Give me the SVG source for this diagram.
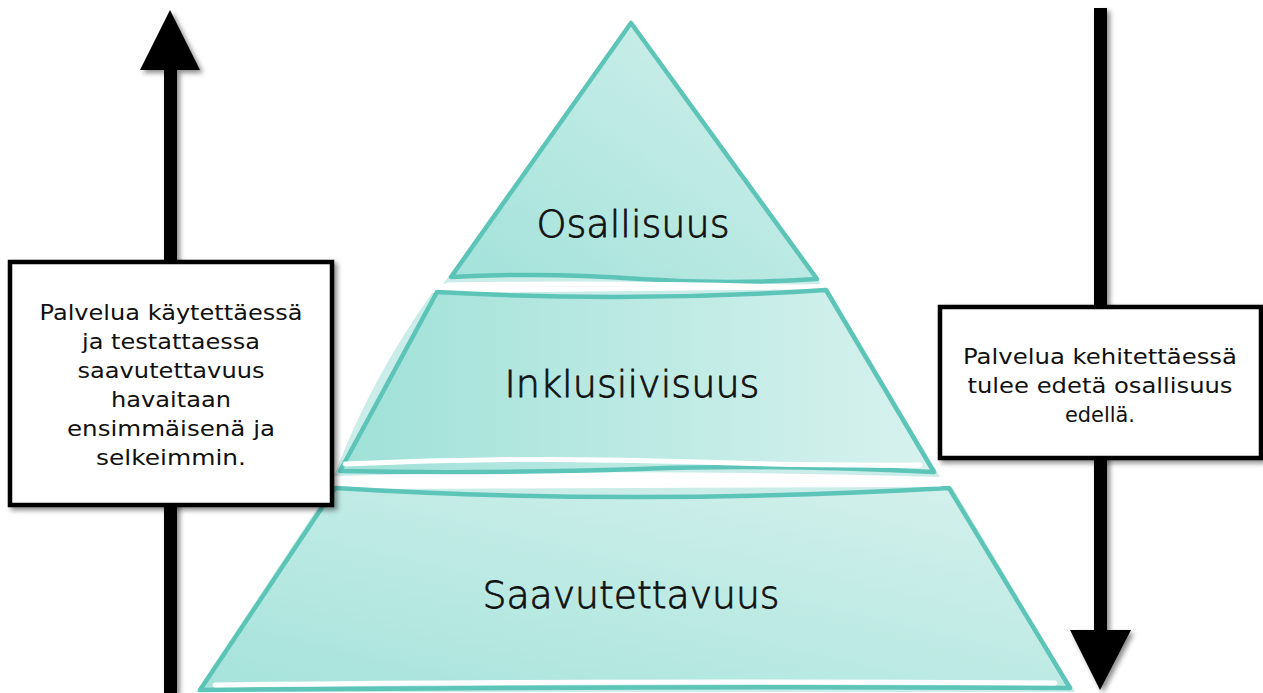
<svg xmlns="http://www.w3.org/2000/svg" width="1263" height="693" viewBox="0 0 1263 693">
<defs>
<style>
.lvl{stroke:#5DC4B8;stroke-width:4.5;stroke-linejoin:round}
.bleed{fill:#BDE9E3;opacity:0.8}
.gap{fill:none;stroke:#ffffff;stroke-width:5;stroke-linecap:round}
.lbl{font-family:"DejaVu Sans","Liberation Sans",sans-serif;font-weight:200;font-size:38px;fill:#111;stroke:#111;stroke-width:0.8;text-anchor:middle}
.txt{font-family:"DejaVu Sans","Liberation Sans",sans-serif;font-size:22px;fill:#111;text-anchor:middle}
.box{fill:#fff;stroke:#000;stroke-width:4.5}
.arrow{fill:#000}
</style>
<linearGradient id="gTop" x1="0" y1="1" x2="1" y2="0">
<stop offset="0" stop-color="#A2E2DA"/>
<stop offset="1" stop-color="#D3F0EC"/>
</linearGradient>
<linearGradient id="gMid" x1="0" y1="0" x2="1" y2="0">
<stop offset="0" stop-color="#9FE1D8"/>
<stop offset="1" stop-color="#D8F2EE"/>
</linearGradient>
<linearGradient id="gBot" x1="0" y1="1" x2="1" y2="0">
<stop offset="0" stop-color="#A5E3DB"/>
<stop offset="1" stop-color="#D6F1ED"/>
</linearGradient>
<filter id="sh" x="-10%" y="-10%" width="130%" height="130%">
<feDropShadow dx="3" dy="3" stdDeviation="2.5" flood-color="#000" flood-opacity="0.45"/>
</filter>
</defs>

<g id="connectors">
<g id="arrow-up" filter="url(#sh)">
<rect class="arrow" x="164" y="66" width="13" height="627"/>
<polygon class="arrow" points="170,10 200,70 140,70"/>
</g>
<g id="arrow-down" filter="url(#sh)">
<rect class="arrow" x="1094" y="8" width="13" height="626"/>
<polygon class="arrow" points="1070,630 1131,630 1100,690"/>
</g>
</g>

<g id="level-osallisuus">
<path class="bleed" d="M631,26 L443,284 Q635,290 821,284 L805,262 L631,26 Z"/>
<path class="lvl" fill="url(#gTop)" d="M631,23 L451,277 Q545,272 640,279 Q730,285 817,279 Z"/>
<path class="gap" d="M447,285 Q640,282 818,288"/>
<text class="lbl" x="633" y="237" textLength="193" lengthAdjust="spacingAndGlyphs">Osallisuus</text>
</g>

<g id="level-inklusiivisuus">
<path class="bleed" d="M432,293 Q370,380 334,476 Q640,468 940,477 L828,289 Z"/>
<path class="lvl" fill="url(#gMid)" d="M437,292 Q630,303 826,290 L934,472 Q770,464 640,469 Q480,474 340,471 Z"/>
<path class="gap" d="M345,464 Q520,456 700,462 Q820,466 920,465"/>
<text class="lbl" x="632" y="397" textLength="255" lengthAdjust="spacingAndGlyphs">Inklusiivisuus</text>
</g>

<g id="level-saavutettavuus">
<path class="bleed" d="M330,489 L196,692 L1075,692 L952,487 Z"/>
<path class="lvl" fill="url(#gBot)" d="M335,488 Q630,506 949,488 L1070,688 Q650,686 200,690 Z"/>
<path class="gap" d="M340,481 Q600,476 940,484"/>
<path class="gap" d="M215,685 Q600,680 1055,683"/>
<text class="lbl" x="631" y="608" textLength="297" lengthAdjust="spacingAndGlyphs">Saavutettavuus</text>
</g>

<g id="box-left">
<rect class="box" x="10" y="262" width="322" height="243" filter="url(#sh)"/>
<text class="txt" x="171" y="320" textLength="263" lengthAdjust="spacingAndGlyphs">Palvelua käytettäessä</text>
<text class="txt" x="171" y="349" textLength="178" lengthAdjust="spacingAndGlyphs">ja testattaessa</text>
<text class="txt" x="171" y="378" textLength="187" lengthAdjust="spacingAndGlyphs">saavutettavuus</text>
<text class="txt" x="171" y="407" textLength="120" lengthAdjust="spacingAndGlyphs">havaitaan</text>
<text class="txt" x="171" y="436" textLength="208" lengthAdjust="spacingAndGlyphs">ensimmäisenä ja</text>
<text class="txt" x="171" y="465" textLength="150" lengthAdjust="spacingAndGlyphs">selkeimmin.</text>
</g>

<g id="box-right">
<rect class="box" x="940" y="307" width="321" height="151" filter="url(#sh)"/>
<text class="txt" x="1100" y="364" textLength="274" lengthAdjust="spacingAndGlyphs">Palvelua kehitettäessä</text>
<text class="txt" x="1100" y="393" textLength="265" lengthAdjust="spacingAndGlyphs">tulee edetä osallisuus</text>
<text class="txt" x="1100" y="422" textLength="70" lengthAdjust="spacingAndGlyphs">edellä.</text>
</g>
</svg>
